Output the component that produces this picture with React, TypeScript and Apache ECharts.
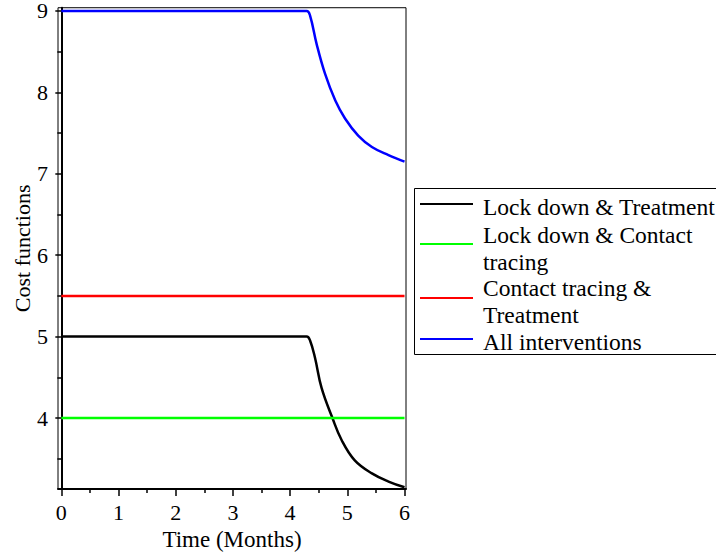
import React, { useEffect, useRef } from "react";
import * as echarts from "echarts";

const seriesNames = [
  "Lock down & Treatment",
  "Lock down & Contact tracing",
  "Contact tracing & Treatment",
  "All interventions",
];
const legendLabels = [
  "Lock down & Treatment",
  "Lock down & Contact\ntracing",
  "Contact tracing &\nTreatment",
  "All interventions",
];
const seriesColors = ["#000000", "#00ff00", "#ff0000", "#0000ff"];

const lockTreatTime = [0, 4.29, 4.35, 4.435, 4.55, 4.74, 4.9, 5.13, 5.43, 5.72, 6.0];
const lockTreatCost = [5, 5, 4.95, 4.74, 4.37, 4.0, 3.73, 3.48, 3.32, 3.22, 3.15];

const lockContactTime = [0, 6];
const lockContactCost = [4, 4];

const contactTreatTime = [0, 6];
const contactTreatCost = [5.5, 5.5];

const allTime = [0, 4.29, 4.35, 4.465, 4.61, 4.79, 4.96, 5.19, 5.43, 5.72, 6.0];
const allCost = [9, 9, 8.94, 8.59, 8.23, 7.9, 7.68, 7.47, 7.33, 7.23, 7.15];

const xMajorTicks = [0, 1, 2, 3, 4, 5, 6];
const xMinorTicks = [0.5, 1.5, 2.5, 3.5, 4.5, 5.5];
const yMajorTicks = [4, 5, 6, 7, 8, 9];
const yMinorTicks = [3.5, 4.5, 5.5, 6.5, 7.5, 8.5];

const FONT = "'Liberation Serif', 'Times New Roman', serif";

function zip(xs: number[], ys: number[]) {
  return xs.map((x, i) => [x, ys[i]]);
}

export default function App() {
  const ref = useRef<HTMLDivElement>(null);
  useEffect(() => {
    document.body.style.margin = "0";
    const chart = echarts.init(ref.current!, null, { renderer: "svg" });
    const xMin = -0.058;
    const xMax = 6.026;
    const yMin = 3.127;
    const yMax = 9.04;
    const axisBase = {
      type: "value" as const,
      splitLine: { show: false },
      axisLine: { show: false },
      axisLabel: { show: false },
      axisTick: { show: false },
    };
    const seriesData = [
      zip(lockTreatTime, lockTreatCost),
      zip(lockContactTime, lockContactCost),
      zip(contactTreatTime, contactTreatCost),
      zip(allTime, allCost),
    ];
    const legendLineY = [204, 244, 298, 339];
    const legendTextTop = [193, 221.5, 274.5, 328];
    const graphic: any[] = [
      {
        type: "rect",
        shape: { x: 414.5, y: 188.5, width: 320, height: 166 },
        style: { fill: "#fff", stroke: "#000", lineWidth: 1 },
        z: 10,
      },
    ];
    legendLabels.forEach((label, i) => {
      graphic.push({
        type: "line",
        shape: { x1: 420, y1: legendLineY[i], x2: 473, y2: legendLineY[i] },
        style: { stroke: seriesColors[i], lineWidth: 2 },
        z: 11,
      });
      graphic.push({
        type: "text",
        x: 483,
        y: legendTextTop[i],
        style: {
          text: label,
          fontFamily: FONT,
          fontSize: 23.5,
          lineHeight: 27,
          fill: "#000",
          verticalAlign: "top",
          align: "left",
        },
        z: 11,
      });
    });
    chart.setOption({
      animation: false,
      backgroundColor: "#fff",
      textStyle: { fontFamily: FONT, color: "#000" },
      grid: {
        left: 58,
        right: 310,
        top: 7,
        bottom: 65,
        show: true,
        borderColor: "#000",
        borderWidth: 1,
        backgroundColor: "transparent",
      },
      xAxis: [
        {
          type: "value",
          min: xMin,
          max: xMax,
          name: "Time (Months)",
          nameLocation: "middle",
          nameGap: 33,
          nameTextStyle: { fontFamily: FONT, fontSize: 23, color: "#000" },
          splitLine: { show: false },
          axisLine: { show: true, lineStyle: { color: "#000", width: 2 } },
          axisTick: {
            show: true,
            length: 7,
            customValues: xMajorTicks,
            lineStyle: { color: "#000", width: 1.5 },
          },
          axisLabel: {
            show: true,
            customValues: xMajorTicks,
            margin: 14,
            fontFamily: FONT,
            fontSize: 22,
            lineHeight: 18,
            color: "#000",
          },
        },
        {
          ...axisBase,
          min: xMin,
          max: xMax,
          position: "bottom",
          axisTick: {
            show: true,
            length: 4,
            customValues: xMinorTicks,
            lineStyle: { color: "#000", width: 1.5 },
          },
        },
      ],
      yAxis: [
        {
          type: "value",
          min: yMin,
          max: yMax,
          name: "Cost functions",
          nameLocation: "middle",
          nameGap: 22,
          nameTextStyle: { fontFamily: FONT, fontSize: 22, color: "#000" },
          splitLine: { show: false },
          axisLine: { show: true, lineStyle: { color: "#000", width: 2 } },
          axisTick: {
            show: true,
            length: 6,
            customValues: yMajorTicks,
            lineStyle: { color: "#000", width: 1.5 },
          },
          axisLabel: {
            show: true,
            customValues: yMajorTicks,
            margin: 10,
            fontFamily: FONT,
            fontSize: 22,
            lineHeight: 18,
            color: "#000",
          },
        },
        {
          ...axisBase,
          min: yMin,
          max: yMax,
          position: "left",
          axisTick: {
            show: true,
            length: 4,
            customValues: yMinorTicks,
            lineStyle: { color: "#000", width: 1.5 },
          },
        },
      ],
      series: seriesNames.map((name, i) => ({
        name,
        type: "line",
        xAxisIndex: 0,
        yAxisIndex: 0,
        data: seriesData[i],
        showSymbol: false,
        symbol: "none",
        smooth: i === 0 || i === 3 ? 0.4 : false,
        lineStyle: { color: seriesColors[i], width: 2.5 },
        itemStyle: { color: seriesColors[i] },
      })),
      graphic,
    });
    return () => chart.dispose();
  }, []);
  return <div ref={ref} style={{ width: 716, height: 556 }} />;
}
